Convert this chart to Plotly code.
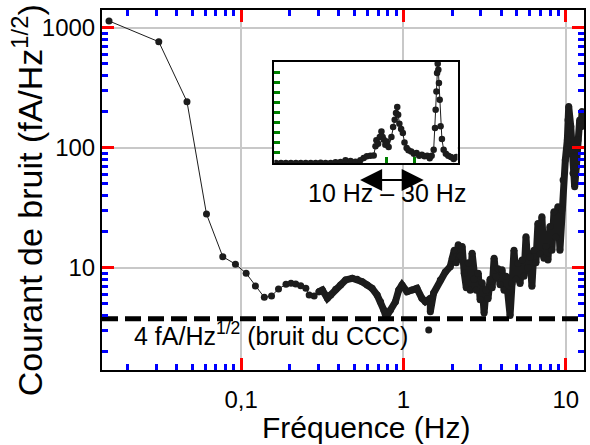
import math
import plotly.graph_objects as go

# ---- main spectrum: low-frequency points (thin connecting line) ----
freq_low = [0.01535, 0.0311, 0.0464, 0.0612, 0.0771, 0.0923, 0.1074, 0.1225, 0.139, 0.154,
            0.170, 0.189, 0.203, 0.217, 0.233, 0.2506, 0.2626, 0.2818, 0.302]
noise_low = [1138, 764, 242, 28.0, 12.35, 10.7, 8.98, 7.04, 5.66, 5.81,
             6.65, 7.28, 7.41, 7.31, 7.08, 6.73, 5.92, 5.81, 6.31]

# ---- main spectrum: dense part ----
freq_high = [0.302, 0.3167, 0.340, 0.3565, 0.3827, 0.410, 0.4406, 0.484, 0.519, 0.557,
             0.598, 0.641, 0.689, 0.723, 0.757, 0.782, 0.832, 0.893, 0.936, 0.980,
             1.052, 1.129, 1.211, 1.300, 1.365, 1.465, 1.465, 1.535, 1.687, 1.811,
             1.942, 2.0, 2.057, 2.116, 2.177, 2.24, 2.30, 2.37, 2.44, 2.51,
             2.58, 2.65, 2.73, 2.81, 2.89, 2.97, 3.05, 3.14, 3.23, 3.32,
             3.42, 3.52, 3.62, 3.72, 3.83, 3.94, 4.05, 4.17, 4.29, 4.41,
             4.54, 4.67, 4.80, 4.94, 5.08, 5.23, 5.38, 5.53, 5.69, 5.85,
             6.02, 6.19, 6.37, 6.55, 6.74, 6.94, 7.13, 7.34, 7.55, 7.77,
             7.99, 8.22, 8.46, 8.70, 8.95, 9.21, 9.47, 9.63, 9.94, 10.23,
             10.33, 10.43, 10.74, 10.93, 11.09, 11.35, 11.62, 11.90, 12.19, 12.48,
             12.59]
noise_high = [6.31, 6.52, 5.56, 5.92, 6.61, 7.18, 7.90, 8.16, 8.0, 7.64,
              7.17, 6.73, 5.92, 5.21, 4.44, 3.86, 4.44, 5.21, 6.52, 7.18,
              6.31, 6.52, 6.73, 5.56, 5.21, 5.56, 4.30, 6.16, 7.90, 9.2,
              10.2, 12.0, 14.0, 11.0, 15.5, 12.5, 15.0, 9.0, 6.8, 11.0,
              6.5, 13.2, 8.0, 6.5, 9.0, 5.4, 7.5, 4.2, 6.5, 5.5,
              8.0, 6.8, 12.0, 8.4, 9.8, 7.2, 9.6, 6.5, 8.5, 6.2,
              4.0, 7.4, 14.0, 8.0, 10.9, 7.4, 11.6, 8.5, 18.1, 10.0,
              12.3, 7.0, 14.0, 11.0, 23.4, 13.0, 26.6, 12.0, 15.0, 11.6,
              22.0, 14.0, 29.3, 18.0, 32.2, 14.0, 30.3, 53.8, 79.0, 116,
              170, 220, 150, 95.7, 61.2, 47.3, 69.5, 116, 170, 150,
              200]

outlier_freq = [1.432]
outlier_noise = [3.03]

ccc_floor = 3.75  # fA/Hz^1/2

# ---- inset spectrum (linear amplitude) ----
inset_freq = [2.48, 2.70, 2.93, 3.19, 3.47, 3.77, 4.10, 4.46, 4.85, 5.27,
              5.73, 6.24, 6.78, 7.38, 8.02, 8.73, 9.49, 10.3, 10.9, 11.5,
              12.2, 12.9, 13.3, 13.5, 13.9, 14.3, 14.7, 15.0, 15.3, 15.7,
              16.1, 16.6, 17.4, 17.9, 18.4, 18.8, 19.2, 19.5, 19.9, 20.5,
              21.1, 21.7, 22.5, 23.2, 24.3, 25.4, 26.6, 27.8, 29.1, 30.4,
              31.8, 33.2, 34.3, 35.5, 36.3, 36.7, 37.2, 37.6, 38.0, 38.4,
              38.8, 39.3, 39.9, 40.8, 42.0, 43.6, 45.4, 47.5, 49.7, 52.0]
inset_amp = [0.0, 0.0, 0.0, 0.0, 0.0, 0.0, 0.0, 0.0, 0.0, 0.03,
             0.0, 0.0, 0.07, 0.1, 0.26, 0.2, 0.13, 0.26, 0.5, 0.66,
             0.72, 0.75, 1.65, 2.24, 1.9, 2.57, 3.13, 2.57, 2.3, 1.81,
             2.14, 1.58, 2.57, 3.56, 4.29, 4.95, 5.54, 4.78, 3.89, 3.36,
             2.97, 2.04, 1.48, 1.25, 1.15, 0.92, 0.99, 0.72, 0.82, 0.66,
             0.72, 0.46, 0.72, 1.32, 3.46, 5.28, 7.09, 8.91, 9.83, 9.24,
             7.92, 6.27, 3.63, 2.37, 1.32, 0.92, 0.72, 0.59, 0.39, 0.59]

band_start, band_end = 10, 30   # Hz, arrow under the inset

x_range = [-1.857, 1.1125]   # log10 Hz
y_range = [0.1475, 3.1475]   # log10 fA/Hz^1/2
inset_x_range = [0.382, 1.725]
inset_y_range = [0, 10]

FONT = "Liberation Sans, Arial, sans-serif"
INK = "#1c1c1c"

fig = go.Figure()

fig.add_trace(go.Scatter(x=freq_low, y=noise_low, mode="lines+markers",
                         line=dict(color=INK, width=1),
                         marker=dict(color=INK, size=7)))
fig.add_trace(go.Scatter(x=freq_high, y=noise_high, mode="lines+markers",
                         line=dict(color=INK, width=7),
                         marker=dict(color=INK, size=7)))
fig.add_trace(go.Scatter(x=outlier_freq, y=outlier_noise, mode="markers",
                         marker=dict(color=INK, size=7)))
fig.add_trace(go.Scatter(x=[10 ** x_range[0], 10 ** x_range[1]], y=[ccc_floor, ccc_floor],
                         mode="lines", line=dict(color="black", width=5, dash="16px,7px")))

fig.add_trace(go.Scatter(x=inset_freq, y=inset_amp, mode="lines+markers",
                         xaxis="x2", yaxis="y2",
                         line=dict(color=INK, width=1),
                         marker=dict(color=INK, size=6.5)))

axis_common = dict(type="log", showline=True, linecolor="black", linewidth=2,
                   mirror="allticks", ticks="inside", ticklen=12, tickwidth=3,
                   tickcolor="red", showgrid=True, gridcolor="#c8c8c8", gridwidth=1.5,
                   zeroline=False, tickfont=dict(family=FONT, size=24, color="black"),
                   dtick=1, minor=dict(ticks="inside", ticklen=6, tickwidth=3,
                                       tickcolor="blue", showgrid=False, dtick="D1"))

fig.update_layout(
    width=590, height=445,
    margin=dict(l=102, r=4, t=10, b=75),
    paper_bgcolor="white", plot_bgcolor="white",
    separators=", ",
    showlegend=False,
    xaxis=dict(**axis_common, range=x_range, ticklabelstandoff=7),
    yaxis=dict(**axis_common, range=y_range),
    xaxis2=dict(type="log", domain=[0.3574, 0.7376], anchor="y2", range=inset_x_range,
                showline=True, linecolor="black", linewidth=1.5, mirror=True,
                ticks="inside", ticklen=6, tickwidth=3, tickcolor="green",
                tickmode="array", tickvals=[16.1, 25.5],
                showticklabels=False, showgrid=False, zeroline=False),
    yaxis2=dict(domain=[0.575, 0.8556], anchor="x2", range=inset_y_range,
                showline=True, linecolor="black", linewidth=1.5, mirror=True,
                ticks="inside", ticklen=6, tickwidth=3, tickcolor="green", dtick=1,
                showticklabels=False, showgrid=False, zeroline=False),
)

fig.add_annotation(text="Fréquence (Hz)", xref="paper", yref="paper", x=0.548, y=-0.16,
                   xanchor="center", yanchor="middle", showarrow=False,
                   font=dict(family=FONT, size=30, color="black"))
fig.add_annotation(text="Courant de bruit (fA/Hz<sup>1/2</sup>)", xref="paper", yref="paper",
                   x=-0.155, y=0.472, textangle=-90, xanchor="center", yanchor="middle",
                   showarrow=False, font=dict(family=FONT, size=34, color="black"))
fig.add_annotation(text="4 fA/Hz<sup>1/2</sup> (bruit du CCC)", xref="paper", yref="paper",
                   x=0.062, y=0.099, xanchor="left", yanchor="middle", showarrow=False,
                   font=dict(family=FONT, size=25, color="black"))
fig.add_annotation(text="10 Hz – 30 Hz", xref="paper", yref="paper", x=0.591, y=0.492,
                   xanchor="center", yanchor="middle", showarrow=False,
                   font=dict(family=FONT, size=25, color="black"))
fig.add_annotation(x=math.log10(band_end), y=0.528, xref="x2", yref="paper",
                   ax=math.log10(band_start), ay=0, axref="x2", ayref="pixel",
                   showarrow=True, arrowhead=2, arrowside="end+start",
                   arrowsize=2.2, arrowwidth=2, arrowcolor="black", text="")

fig.write_html("out.html", config={"displayModeBar": False},
               post_script="document.body.style.margin='0px';")
